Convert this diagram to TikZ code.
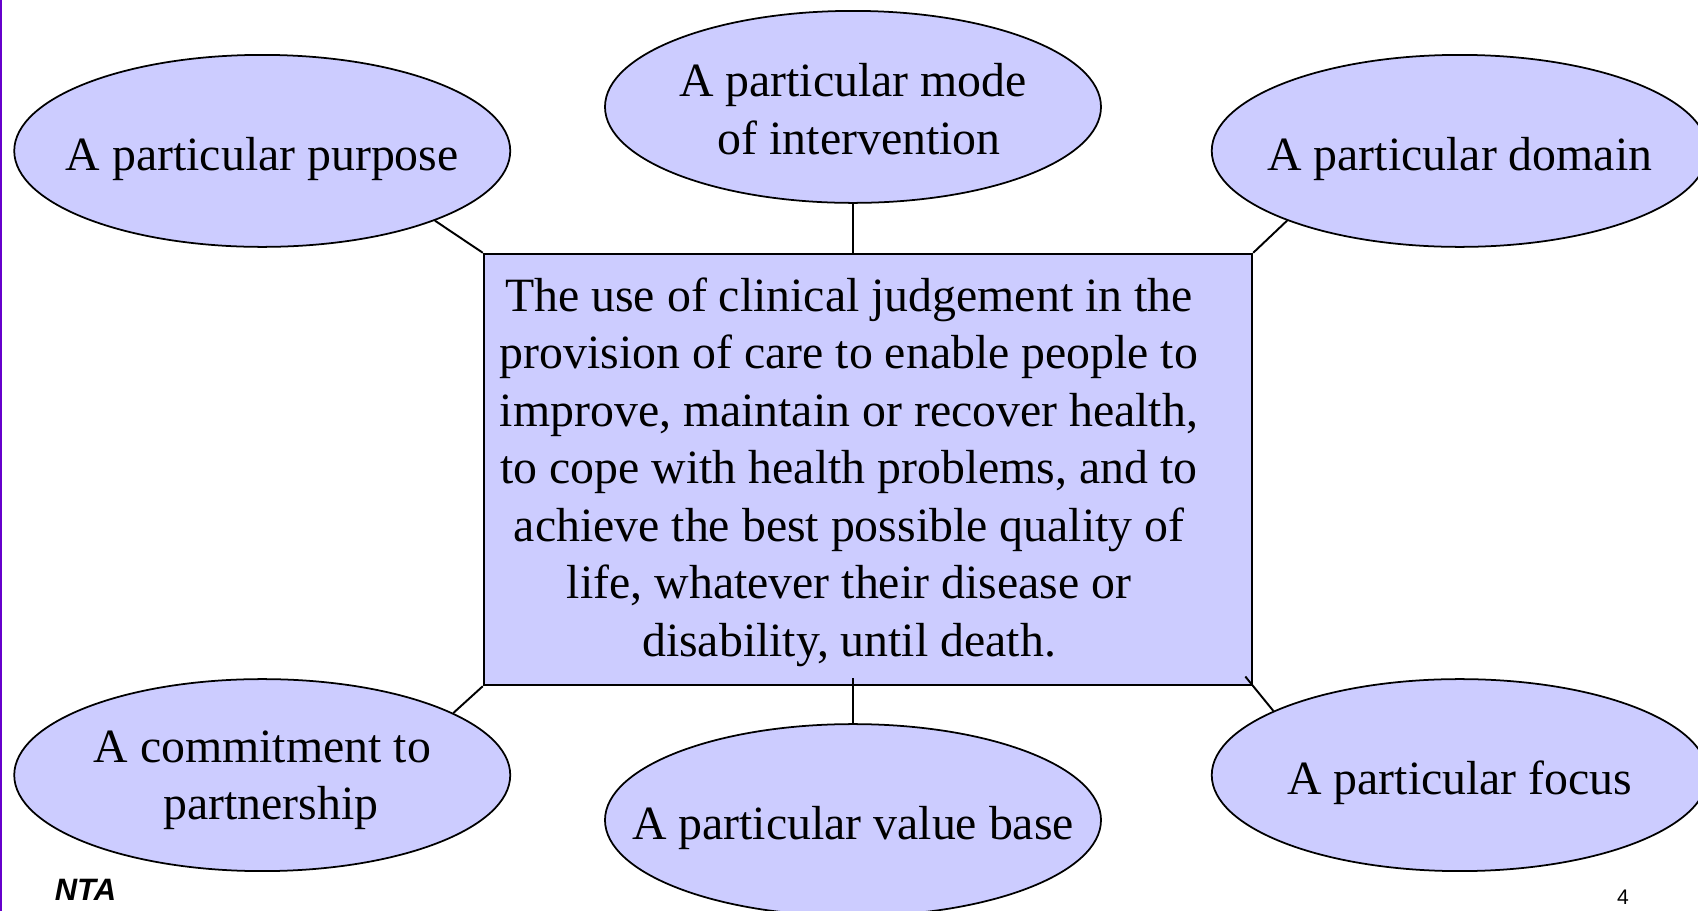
\documentclass[tikz,border=0pt]{standalone}
\usepackage{fontspec}
\setmainfont{Liberation Serif}
\setsansfont{Liberation Sans}
\usepackage{tikz}
\usetikzlibrary{shapes.geometric, positioning}
\definecolor{ovalcolor}{RGB}{204, 204, 255}
\definecolor{sidecolor}{RGB}{102, 0, 204}

\begin{document}
\begin{tikzpicture}[
    node distance=1cm and 2cm,
    oval/.style={draw, fill=ovalcolor, ellipse, line width=1pt, minimum width=9.92cm, minimum height=3.84cm, inner xsep=-1.5cm, inner ysep=0pt, align=center, font=\fontsize{27.2}{32.7}\selectfont, execute at begin node={\rule{0pt}{#1}}},
    oval/.default=0.97cm,
    mainbox/.style={draw, fill=ovalcolor, line width=1.4pt, minimum width=15.36cm, minimum height=8.62cm, inner sep=0pt},
    boxtext/.style={align=center, font=\fontsize{27.2}{32.7}\selectfont},
    link/.style={line width=1.1pt}
]
    \useasboundingbox (0,0) rectangle (33.96,-18.22);
    \clip (0,0) rectangle (33.96,-18.22);

    % Central definition
    \node[mainbox] (box) at (17.36,-9.39) {};
    \node[boxtext, xshift=-0.38cm, yshift=-0.05cm] (definition) at (box.center) {The use of clinical judgement in the\\provision of care to enable people to\\improve, maintain or recover health,\\to cope with health problems, and to\\achieve the best possible quality of\\life, whatever their disease or\\disability, until death.};

    % Surrounding ovals
    \node[oval=1.9cm, above=0.98cm of box, xshift=-0.3cm] (mode) {A particular mode\\\hspace*{0.25cm}of intervention};
    \node[oval, left=1.86cm of mode, yshift=-0.88cm] (purpose) {A particular purpose};
    \node[oval, right=2.18cm of mode, yshift=-0.88cm] (domain) {A particular domain};
    \node[oval, below=0.74cm of box, xshift=-0.3cm] (value) {A particular value base};
    \node[oval=1.98cm, left=1.86cm of value, yshift=0.9cm] (partner) {A commitment to\\\hspace*{0.35cm}partnership};
    \node[oval, right=2.18cm of value, yshift=0.9cm] (focus) {A particular focus};

    % Links
    \draw[link] (purpose.-22) -- (box.north west);
    \draw[link] (mode.south) -- (mode.south |- box.north);
    \draw[link] (domain.202) -- (box.north east);
    \draw[link] (partner.18) -- (box.south west);
    \draw[link] (value.north) -- ([yshift=0.16cm]value.north |- box.south);
    \draw[link, shorten <=-0.25cm] (box.south east) -- (focus.161);

    % Slide furniture
    \draw[sidecolor, line width=0.05cm] (0.02,0) -- (0.02,-18.22);
    \node[font=\sffamily\bfseries\itshape\fontsize{17.6}{20}\selectfont] (org) at (1.71,-17.8) {NTA};
    \node[font=\sffamily\fontsize{12}{14}\selectfont] (page) at (32.46,-17.94) {4};
\end{tikzpicture}
\end{document}
